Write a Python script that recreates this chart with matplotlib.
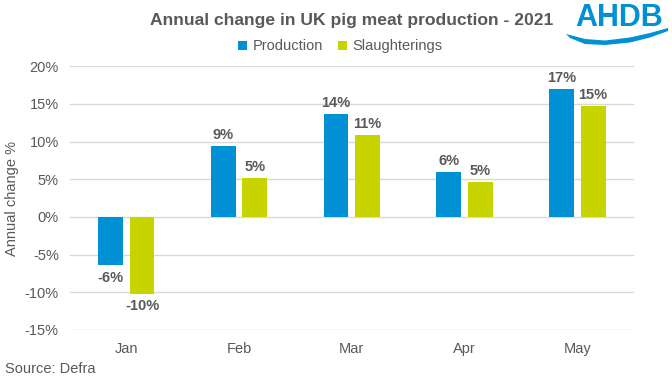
import numpy as np
import matplotlib.pyplot as plt
from matplotlib.ticker import FuncFormatter
from matplotlib.patches import Polygon

months = ['Jan', 'Feb', 'Mar', 'Apr', 'May']
production = [-6.4, 9.4, 13.6, 6.0, 17.0]
slaughterings = [-10.2, 5.1, 10.9, 4.6, 14.7]

blue = '#0090d4'
green = '#c8d400'
grey = '#595959'

plt.rcParams['font.family'] = ['Liberation Sans', 'DejaVu Sans']

fig = plt.figure(figsize=(6.72, 3.78), dpi=100)
ax = fig.add_axes([0.104, 0.127, 0.839, 0.698])

x = np.arange(len(months))
w = 0.22
gap = 0.06
off = (w + gap) / 2
b1 = ax.bar(x - off, production, w, color=blue, label='Production', zorder=3)
b2 = ax.bar(x + off, slaughterings, w, color=green, label='Slaughterings', zorder=3)

for bars, vals in [(b1, production), (b2, slaughterings)]:
    for b, v in zip(bars, vals):
        if v >= 0:
            ax.annotate(f'{v:.0f}%', (b.get_x() + b.get_width() / 2, v),
                        xytext=(0, 3), textcoords='offset points',
                        ha='center', va='bottom', fontsize=10.5,
                        fontweight='bold', color=grey)
        else:
            ax.annotate(f'{v:.0f}%', (b.get_x() + b.get_width() / 2, v),
                        xytext=(0, -4), textcoords='offset points',
                        ha='center', va='top', fontsize=10.5,
                        fontweight='bold', color=grey)

ax.set_xlim(-0.5, len(months) - 0.5)
ax.set_ylim(-15, 20)
ax.set_yticks(np.arange(-15, 21, 5))
ax.yaxis.set_major_formatter(FuncFormatter(lambda v, p: f'{v:.0f}%'))
ax.set_xticks(x)
ax.set_xticklabels(months)
ax.tick_params(axis='both', length=0, labelsize=10.5, colors=grey)
ax.tick_params(axis='x', pad=9)
ax.tick_params(axis='y', pad=8)
ax.grid(axis='y', color='#d9d9d9', linewidth=1, zorder=0)
for s in ax.spines.values():
    s.set_visible(False)

ax.set_ylabel('Annual change %', fontsize=10.5, color=grey, labelpad=4)

fig.text(0.523, 0.947, 'Annual change in UK pig meat production - 2021',
         ha='center', va='center', fontsize=12.6, fontweight='bold', color=grey)
ax.legend(loc='center', bbox_to_anchor=(0.48, 1.075), ncol=2, frameon=False,
          fontsize=10.5, handlelength=0.6, handleheight=0.6,
          columnspacing=1.0, handletextpad=0.4, labelcolor=grey)

fig.text(0.008, 0.025, 'Source: Defra', ha='left', va='center',
         fontsize=10.5, color=grey)

# AHDB logo
fig.text(0.921, 0.952, 'AHDB', ha='center', va='center', fontsize=22,
         color=blue, fontweight='bold')
upper = [(566, 34), (585, 39), (605, 40.5), (630, 37.5), (650, 33), (668, 28)]
lower = [(668, 31), (650, 37.5), (630, 42.5), (605, 45), (585, 44), (570, 38)]
pts = [(px / 672, 1 - py / 378) for px, py in upper + lower]
fig.add_artist(Polygon(pts, closed=True, facecolor=blue, edgecolor='none',
                       transform=fig.transFigure))

fig.savefig('out.png', dpi=100)
